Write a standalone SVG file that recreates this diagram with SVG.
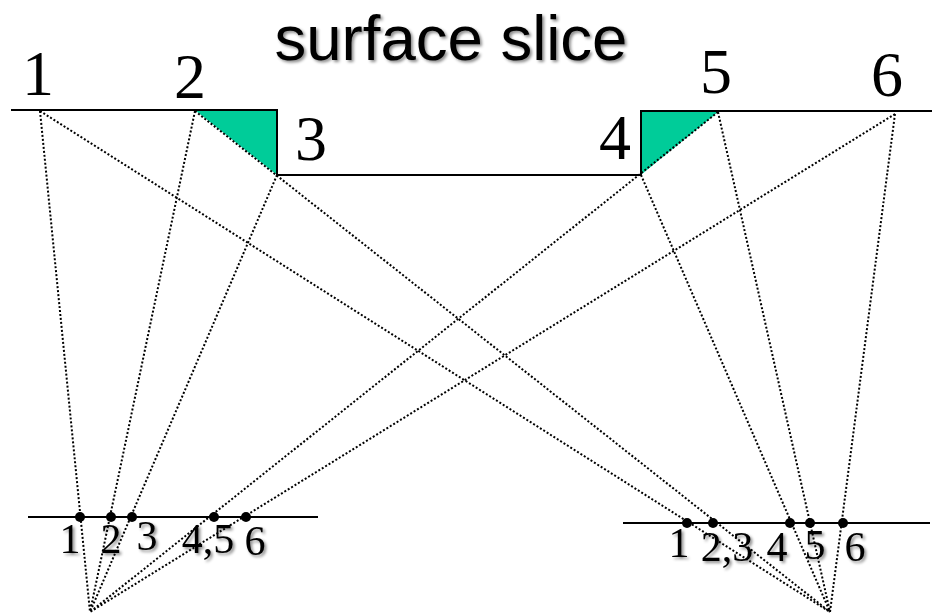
<svg xmlns="http://www.w3.org/2000/svg" width="932" height="613" viewBox="0 0 932 613">
<defs>
<style>
.surf{fill:none;stroke:#000;stroke-width:2}
.ray{fill:none;stroke:#000;stroke-width:2;stroke-dasharray:2 2}
.film{fill:none;stroke:#000;stroke-width:2}
.tri{fill:#00cc99;stroke:none}
.pt{fill:#000}
.big{font-family:"Liberation Serif",serif;font-size:64px;fill:#000;text-anchor:middle}
.small{font-family:"Liberation Serif",serif;font-size:42px;fill:#000;text-anchor:middle;filter:url(#sh)}
.title{font-family:"Liberation Sans",sans-serif;font-size:63.5px;fill:#000;text-anchor:middle;filter:url(#sh)}
</style>
<filter id="sh" x="-20%" y="-20%" width="140%" height="150%"><feDropShadow dx="2" dy="2" stdDeviation="1.5" flood-color="#000" flood-opacity="0.45"/></filter>
</defs>
<rect width="932" height="613" fill="#fff"/>
<g id="title"><text class="title" x="451" y="60">surface slice</text></g>
<g id="surface">
<polygon class="tri" points="196,111 277,111 277,175"/>
<polygon class="tri" points="642,112 718,112 642,174"/>
<path class="surf" d="M11 110H277V175H641V111H932"/>
</g>
<g id="connectors">
<path class="ray" d="M40 111L90 612M195 111L90 612M277 175L90 612M718 112L90 612M895 114L90 612"/>
<path class="ray" d="M40 111L830 612M195 111L830 612M641 175L830 612M718 112L830 612M895 114L830 612"/>
</g>
<g id="left-film">
<path class="film" d="M28 517H318"/>
<circle class="pt" cx="80" cy="517" r="5"/><circle class="pt" cx="111" cy="517" r="5"/><circle class="pt" cx="132" cy="517" r="5"/><circle class="pt" cx="214" cy="517" r="5"/><circle class="pt" cx="246" cy="517" r="5"/>
</g>
<g id="right-film">
<path class="film" d="M623 523H930"/>
<circle class="pt" cx="687" cy="523" r="5"/><circle class="pt" cx="713" cy="523" r="5"/><circle class="pt" cx="790" cy="523" r="5"/><circle class="pt" cx="810" cy="523" r="5"/><circle class="pt" cx="843" cy="523" r="5"/>
</g>
<g id="labels-top">
<text class="big" x="38" y="95">1</text><text class="big" x="190" y="98">2</text><text class="big" x="311" y="160">3</text><text class="big" x="615" y="159">4</text><text class="big" x="716" y="93">5</text><text class="big" x="887" y="96">6</text>
</g>
<g id="labels-left">
<text class="small" x="70" y="553">1</text><text class="small" x="111" y="553">2</text><text class="small" x="147" y="550">3</text><text class="small" x="208" y="553">4,5</text><text class="small" x="255" y="555">6</text>
</g>
<g id="labels-right">
<text class="small" x="679" y="557">1</text><text class="small" x="727" y="561">2,3</text><text class="small" x="777" y="561">4</text><text class="small" x="815" y="559">5</text><text class="small" x="855" y="561">6</text>
</g>
</svg>
